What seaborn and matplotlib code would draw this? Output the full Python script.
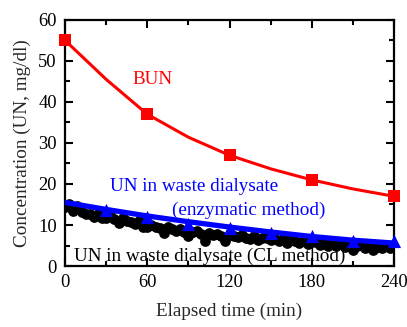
import matplotlib
matplotlib.use("Agg")
import matplotlib.pyplot as plt
import seaborn as sns
import numpy as np
import pandas as pd
from matplotlib.ticker import MultipleLocator

# ---- data ----
bun_time = [0, 30, 60, 90, 120, 150, 180, 210, 240]
bun_curve = [55, 45.5, 37, 31.4, 27, 23.7, 21, 18.8, 17]
bun_mark_time = [0, 60, 120, 180, 240]
bun_mark = [55, 37, 27, 21, 17]

enz_time = [0, 30, 60, 90, 120, 150, 180, 210, 240]
enz_line = [15.5, 13.8, 12.2, 10.8, 9.5, 8.3, 7.2, 6.3, 5.6]
enz_mark_time = [30, 60, 90, 120, 150, 180, 210, 240]
enz_mark = [13.6, 12.0, 10.3, 9.3, 8.0, 7.2, 6.0, 6.2]

cl_time = list(range(0, 241, 3))
cl_vals = [14.5, 15.0, 13.4, 14.6, 13.2, 12.6, 12.8, 12.0, 12.7, 11.8,
           11.6, 12.4, 11.5, 10.6, 11.7, 11.0, 10.8, 10.2, 11.0, 9.6,
           9.4, 10.0, 9.6, 9.3, 8.0, 9.4, 9.0, 8.6, 9.1, 8.4,
           7.4, 8.3, 8.6, 7.8, 6.2, 8.0, 7.6, 7.9, 7.2, 6.2,
           7.6, 7.3, 7.0, 7.5, 6.8, 6.6, 7.3, 6.4, 6.8, 6.9,
           6.3, 6.7, 6.0, 6.5, 5.7, 6.3, 6.0, 5.5, 6.1, 5.4,
           5.8, 5.9, 5.2, 5.7, 5.0, 5.4, 4.8, 5.5, 4.6, 5.1,
           3.8, 4.8, 5.2, 4.5, 4.9, 4.0, 4.7, 4.3, 4.9, 4.5, 5.1]

x_ticks = [0, 60, 120, 180, 240]
y_ticks = [0, 10, 20, 30, 40, 50, 60]

sns.set_style("ticks")
plt.rcParams['font.family'] = ['Liberation Serif', 'DejaVu Serif']

fig = plt.figure(figsize=(4.07, 3.27), dpi=100)
ax = fig.add_axes([0.160, 0.1865, 0.808, 0.7525])

cl_df = pd.DataFrame({"t": cl_time, "v": cl_vals})
sns.scatterplot(data=cl_df, x="t", y="v", ax=ax, color="black", s=60,
                edgecolor="black", linewidth=0, zorder=2, legend=False)

sns.lineplot(x=enz_time, y=enz_line, ax=ax, color="#0000ff", linewidth=3.8,
             zorder=3, legend=False)
sns.scatterplot(x=enz_mark_time, y=enz_mark, ax=ax, color="#0000ff",
                marker="^", s=90, linewidth=0, zorder=4, legend=False,
                clip_on=False)

sns.lineplot(x=bun_time, y=bun_curve, ax=ax, color="#ff0000", linewidth=2.2,
             zorder=5, legend=False)
sns.scatterplot(x=bun_mark_time, y=bun_mark, ax=ax, color="#ff0000",
                marker="s", s=70, linewidth=0, zorder=6, legend=False,
                clip_on=False)

ax.set_xlim(0, 240)
ax.set_ylim(0, 60)
ax.set_xticks(x_ticks)
ax.set_yticks(y_ticks)
ax.xaxis.set_minor_locator(MultipleLocator(30))
ax.yaxis.set_minor_locator(MultipleLocator(5))
ax.tick_params(which="both", direction="in", top=True, right=True,
               labelsize=13.3, width=1.5, colors="black")
ax.tick_params(which="major", length=6, pad=6)
ax.tick_params(which="minor", length=3.5)
for sp in ax.spines.values():
    sp.set_linewidth(1.6)
    sp.set_color("black")

ax.set_xlabel("Elapsed time (min)", fontsize=13.8, labelpad=8)
ax.set_ylabel("Concentration (UN, mg/dl)", fontsize=13.8, labelpad=5)

ax.text(64, 45.6, "BUN", color="#ff0000", fontsize=13.8, ha="center", va="center")
ax.text(33, 19.3, "UN in waste dialysate", color="#0000ff", fontsize=13.8,
        ha="left", va="center")
ax.text(78, 13.6, "(enzymatic method)", color="#0000ff", fontsize=13.8,
        ha="left", va="center")
ax.text(6.5, 2.3, "UN in waste dialysate (CL method)", color="black",
        fontsize=13.8, ha="left", va="center", zorder=7)

fig.savefig("out.png", dpi=100)
